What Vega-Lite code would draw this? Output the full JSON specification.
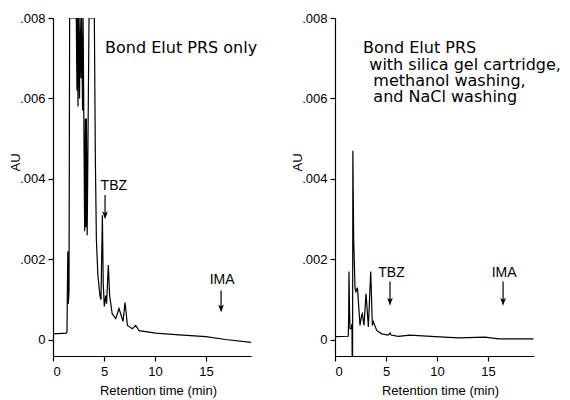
{
  "$schema": "https://vega.github.io/schema/vega-lite/v6.json",
  "padding": {"left": 9, "top": 12, "right": 5, "bottom": 2},
  "spacing": 33,
  "config": {
    "view": {"stroke": null},
    "axis": {"grid": false, "domainColor": "black", "tickColor": "black", "labelColor": "black", "titleColor": "black", "labelFont": "Liberation Sans", "titleFont": "Liberation Sans", "labelFontSize": 13, "titleFontSize": 13, "titleFontWeight": "normal", "tickSize": 5, "domainWidth": 1.2, "tickWidth": 1.2}
  },
  "datasets": {
    "leftTrace": [
      {"t": 0, "v": 0.00015}, {"t": 1.3, "v": 0.00017}, {"t": 1.37, "v": 0.0002}, {"t": 1.42, "v": 0.0015}, {"t": 1.45, "v": 0.0022}, {"t": 1.5, "v": 0.0009}, {"t": 1.57, "v": 0.0012}, {"t": 1.63, "v": 0.008}, {"t": 2.28, "v": 0.008}, {"t": 2.35, "v": 0.0062}, {"t": 2.4, "v": 0.008}, {"t": 2.45, "v": 0.0058}, {"t": 2.5, "v": 0.008}, {"t": 2.6, "v": 0.006}, {"t": 2.65, "v": 0.008}, {"t": 2.75, "v": 0.0065}, {"t": 2.8, "v": 0.008}, {"t": 2.9, "v": 0.0057}, {"t": 2.95, "v": 0.008}, {"t": 3.05, "v": 0.0045}, {"t": 3.1, "v": 0.0027}, {"t": 3.17, "v": 0.0055}, {"t": 3.22, "v": 0.0028}, {"t": 3.27, "v": 0.0055}, {"t": 3.35, "v": 0.0026}, {"t": 3.53, "v": 0.008}, {"t": 4.05, "v": 0.008}, {"t": 4.15, "v": 0.0045}, {"t": 4.25, "v": 0.0025}, {"t": 4.4, "v": 0.0016}, {"t": 4.6, "v": 0.0011}, {"t": 4.7, "v": 0.001}, {"t": 4.84, "v": 0.0031}, {"t": 4.92, "v": 0.0014}, {"t": 5.03, "v": 0.00083}, {"t": 5.16, "v": 0.0011}, {"t": 5.25, "v": 0.0009}, {"t": 5.42, "v": 0.00186}, {"t": 5.55, "v": 0.0011}, {"t": 5.8, "v": 0.00065}, {"t": 6.15, "v": 0.00053}, {"t": 6.47, "v": 0.00078}, {"t": 6.86, "v": 0.00046}, {"t": 7.06, "v": 0.00093}, {"t": 7.29, "v": 0.00036}, {"t": 7.78, "v": 0.00028}, {"t": 8.1, "v": 0.00036}, {"t": 8.43, "v": 0.00023}, {"t": 10.07, "v": 0.00017}, {"t": 12.35, "v": 0.000125}, {"t": 14.97, "v": 0.00008}, {"t": 16.9, "v": 0.00001}, {"t": 19.4, "v": -0.00006}
    ],
    "rightTrace": [
      {"t": 0, "v": 0.00008}, {"t": 1.3, "v": 0.00009}, {"t": 1.34, "v": 0.0006}, {"t": 1.37, "v": 0.0017}, {"t": 1.42, "v": 0.0008}, {"t": 1.47, "v": 0.00028}, {"t": 1.6, "v": 0.00028}, {"t": 1.66, "v": 0.0004}, {"t": 1.7, "v": -0.001}, {"t": 1.72, "v": -0.001}, {"t": 1.75, "v": 0.0047}, {"t": 1.83, "v": 0.0025}, {"t": 1.96, "v": 0.0013}, {"t": 2.05, "v": 0.0012}, {"t": 2.2, "v": 0.0013}, {"t": 2.45, "v": 0.00036}, {"t": 2.6, "v": 0.0006}, {"t": 2.68, "v": 0.00065}, {"t": 2.84, "v": 0.00036}, {"t": 3.04, "v": 0.00115}, {"t": 3.27, "v": 0.00032}, {"t": 3.5, "v": 0.0017}, {"t": 3.66, "v": 0.00036}, {"t": 3.76, "v": 0.00045}, {"t": 4.1, "v": 0.00023}, {"t": 4.58, "v": 0.00015}, {"t": 5.2, "v": 0.00012}, {"t": 5.39, "v": 0.00017}, {"t": 5.5, "v": 0.00012}, {"t": 6.2, "v": 0.00009}, {"t": 7.35, "v": 0.00012}, {"t": 9.8, "v": 0.00008}, {"t": 12.1, "v": 0.00005}, {"t": 14.7, "v": 0.00007}, {"t": 16, "v": 0.000025}, {"t": 19.45, "v": 0.000025}
    ],
    "leftNotes": [{"label": "Bond Elut PRS only", "x": 5.1, "y": 0.00725}],
    "rightNotes": [
      {"label": "Bond Elut PRS", "x": 2.75, "y": 0.00725},
      {"label": "with silica gel cartridge,", "x": 3.36, "y": 0.00684},
      {"label": "methanol washing,", "x": 3.76, "y": 0.00644},
      {"label": "and NaCl washing", "x": 3.76, "y": 0.00603}
    ],
    "leftMarks": [
      {"label": "TBZ", "lx": 5.96, "ly": 0.00383, "ax": 5.1, "top": 0.0036, "end": 0.0031, "head": 0.0031},
      {"label": "IMA", "lx": 16.57, "ly": 0.00148, "ax": 16.47, "top": 0.00123, "end": 0.00078, "head": 0.00078}
    ],
    "rightMarks": [
      {"label": "TBZ", "lx": 5.54, "ly": 0.00167, "ax": 5.39, "top": 0.00145, "end": 0.00095, "head": 0.00095},
      {"label": "IMA", "lx": 16.57, "ly": 0.00167, "ax": 16.47, "top": 0.00145, "end": 0.00095, "head": 0.00095}
    ]
  },
  "hconcat": [
    {
      "width": 198,
      "height": 338,
      "encoding": {
        "x": {"type": "quantitative", "title": "Retention time (min)", "scale": {"domain": [0, 19.4], "nice": false}, "axis": {"values": [0, 5, 10, 15], "labelPadding": 4, "titlePadding": 6, "titleX": 105}},
        "y": {"type": "quantitative", "title": "AU", "scale": {"domain": [-0.0004, 0.008], "nice": false, "zero": false}, "axis": {"values": [0, 0.002, 0.004, 0.006, 0.008], "labelExpr": "datum.value == 0 ? '0' : replace(format(datum.value, '.3f'), '0.', '.')", "titlePadding": -3, "titleY": 144, "labelPadding": 3}}
      },
      "layer": [
        {
          "data": {"name": "leftTrace"},
          "mark": {"type": "line", "color": "black", "strokeWidth": 1.2, "clip": true},
          "encoding": {"x": {"field": "t"}, "y": {"field": "v"}}
        },
        {
          "data": {"name": "leftNotes"},
          "mark": {"type": "text", "align": "left", "baseline": "middle", "font": "DejaVu Sans", "fontSize": 16, "color": "black"},
          "encoding": {"x": {"field": "x"}, "y": {"field": "y"}, "text": {"field": "label"}}
        },
        {
          "data": {"name": "leftMarks"},
          "mark": {"type": "text", "align": "center", "baseline": "middle", "font": "Liberation Sans", "fontSize": 14, "color": "black"},
          "encoding": {"x": {"field": "lx"}, "y": {"field": "ly"}, "text": {"field": "label"}}
        },
        {
          "data": {"name": "leftMarks"},
          "mark": {"type": "rule", "color": "black", "strokeWidth": 1.2},
          "encoding": {"x": {"field": "ax"}, "y": {"field": "top"}, "y2": {"field": "end"}}
        },
        {
          "data": {"name": "leftMarks"},
          "mark": {"type": "point", "shape": "M-0.7,-1L0,1L0.7,-1L0,-0.5Z", "filled": true, "color": "black", "opacity": 1, "size": 64},
          "encoding": {"x": {"field": "ax"}, "y": {"field": "head"}}
        }
      ]
    },
    {
      "width": 199,
      "height": 338,
      "encoding": {
        "x": {"type": "quantitative", "title": "Retention time (min)", "scale": {"domain": [0, 19.5], "nice": false}, "axis": {"values": [0, 5, 10, 15], "labelPadding": 4, "titlePadding": 6, "titleX": 105}},
        "y": {"type": "quantitative", "title": "AU", "scale": {"domain": [-0.0004, 0.008], "nice": false, "zero": false}, "axis": {"values": [0, 0.002, 0.004, 0.006, 0.008], "labelExpr": "datum.value == 0 ? '0' : replace(format(datum.value, '.3f'), '0.', '.')", "titlePadding": -3, "titleY": 144, "labelPadding": 3}}
      },
      "layer": [
        {
          "data": {"name": "rightTrace"},
          "mark": {"type": "line", "color": "black", "strokeWidth": 1.2, "clip": true},
          "encoding": {"x": {"field": "t"}, "y": {"field": "v"}}
        },
        {
          "data": {"name": "rightNotes"},
          "mark": {"type": "text", "align": "left", "baseline": "middle", "font": "DejaVu Sans", "fontSize": 16, "color": "black"},
          "encoding": {"x": {"field": "x"}, "y": {"field": "y"}, "text": {"field": "label"}}
        },
        {
          "data": {"name": "rightMarks"},
          "mark": {"type": "text", "align": "center", "baseline": "middle", "font": "Liberation Sans", "fontSize": 14, "color": "black"},
          "encoding": {"x": {"field": "lx"}, "y": {"field": "ly"}, "text": {"field": "label"}}
        },
        {
          "data": {"name": "rightMarks"},
          "mark": {"type": "rule", "color": "black", "strokeWidth": 1.2},
          "encoding": {"x": {"field": "ax"}, "y": {"field": "top"}, "y2": {"field": "end"}}
        },
        {
          "data": {"name": "rightMarks"},
          "mark": {"type": "point", "shape": "M-0.7,-1L0,1L0.7,-1L0,-0.5Z", "filled": true, "color": "black", "opacity": 1, "size": 64},
          "encoding": {"x": {"field": "ax"}, "y": {"field": "head"}}
        }
      ]
    }
  ]
}
